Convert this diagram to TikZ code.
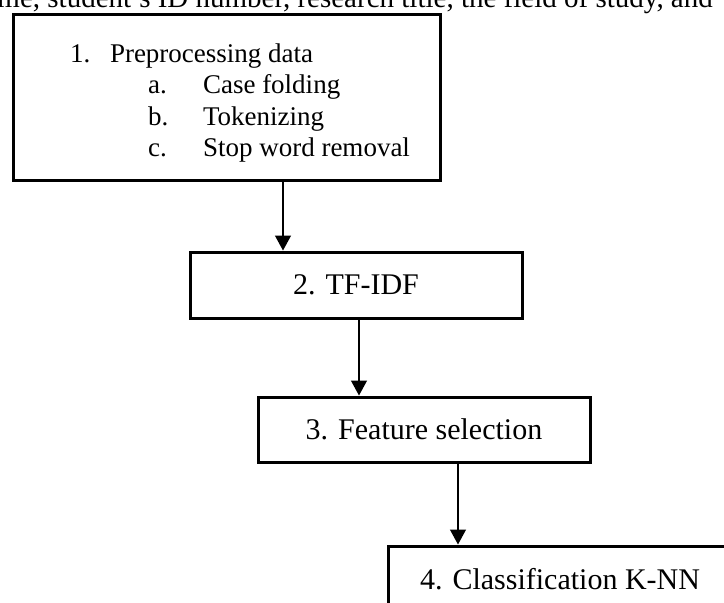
\documentclass[tikz,border=0pt]{standalone}
\usepackage{fontspec}
\setmainfont{Liberation Serif}
\usetikzlibrary{arrows.meta,positioning}
\tikzset{
  stepbox/.style={draw, rectangle, line width=3pt, minimum height=66pt, font=\fontsize{30}{36}\selectfont},
  flow/.style={-{Triangle[length=15pt,width=16pt]}, line width=1.3pt},
}
\begin{document}
\begin{tikzpicture}[x=1pt, y=-1pt]
  \useasboundingbox (0,0) rectangle (724,603);
  \clip (0,0) rectangle (724,603);
  \node[anchor=base east, inner sep=0pt, font=\fontsize{29}{34}\selectfont] (caption) at (713,7) {name, student's ID number, research title, the field of study, and};
  \node[stepbox, minimum width=427pt, minimum height=166pt, align=left, font=\fontsize{27}{31.3}\selectfont] (prep) at (226.5,97)
    {\rule{0pt}{31pt}\hspace*{27pt}\makebox[40pt][l]{1.}Preprocessing data\\
     \hspace*{105pt}\makebox[55pt][l]{a.}Case folding\\
     \hspace*{105pt}\makebox[55pt][l]{b.}Tokenizing\\
     \hspace*{105pt}\makebox[55pt][l]{c.}Stop word removal};
  \node[stepbox, minimum width=332pt] (tfidf) at (356,285) {2. TF-IDF};
  \node[stepbox, minimum width=332pt, minimum height=65pt] (feat) at (424,429.5) {3. Feature selection};
  \node[stepbox, minimum width=344pt] (knn) at (560,579) {4. Classification K-NN};
  \coordinate (a1) at (283,0);
  \coordinate (a2) at (359,0);
  \coordinate (a3) at (458,0);
  \draw[flow] (prep.south -| a1) -- (tfidf.north -| a1);
  \draw[flow] (tfidf.south -| a2) -- (feat.north -| a2);
  \draw[flow] (feat.south -| a3) -- (knn.north -| a3);
\end{tikzpicture}
\end{document}
